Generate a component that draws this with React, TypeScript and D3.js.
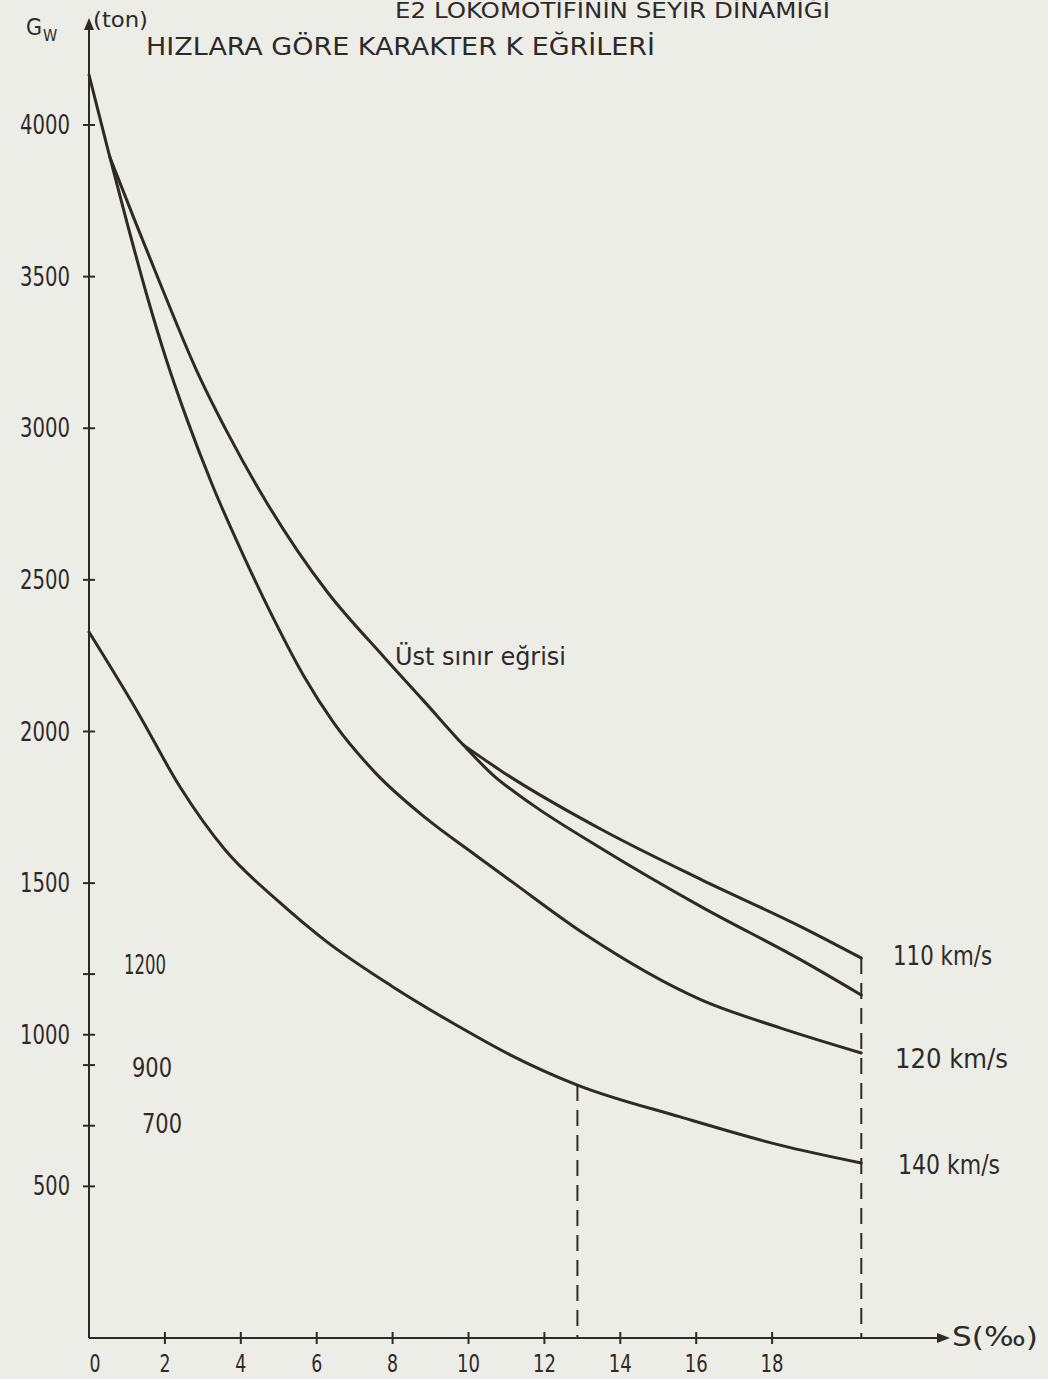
import React from "react";
import * as d3 from "d3";

const W = 1048;
const H = 1379;

// eğim S (‰) - yük Gw (ton)
const grade140 = [0, 1.25, 2.4, 3.59, 5.01, 6.21, 7.97, 9.72, 11.11, 12.87, 15.58, 18.21, 20.35];
const load140 = [2328, 2071, 1817, 1609, 1438, 1312, 1161, 1029, 933, 834, 729, 636, 577];

const grade120 = [0, 0.5, 1.01, 1.53, 2.04, 2.55, 3.25, 4.1, 4.88, 5.66, 6.44, 7.56, 8.87, 10.18, 11.15, 13.06, 16.13, 18.23, 20.35];
const load120 = [4165, 3918, 3674, 3436, 3225, 3040, 2813, 2572, 2368, 2183, 2030, 1862, 1715, 1593, 1504, 1332, 1115, 1022, 940];

// üst sınır eğrisi
const gradeLimit = [0.55, 1.2, 1.87, 2.83, 3.68, 4.72, 5.5, 6.28, 7.77, 8.82, 9.86, 10.64, 11.69, 13.48, 16.15, 18.77, 20.35];
const loadLimit = [3894, 3687, 3479, 3192, 2978, 2747, 2595, 2460, 2246, 2101, 1956, 1857, 1758, 1616, 1421, 1246, 1131];

const grade110 = [9.86, 10.91, 13.53, 16.16, 18.78, 20.35];
const load110 = [1956, 1866, 1675, 1510, 1355, 1253];

const xTicks = [0, 2, 4, 6, 8, 10, 12, 14, 16, 18];
const yTicks = [500, 1000, 1500, 2000, 2500, 3000, 3500, 4000];
const innerTicks = [1200, 900, 700];
const dashedAt = [12.87, 20.35];
const dashedTop = [834, 1253];

const FONT = "'Liberation Sans Narrow', 'DejaVu Sans Condensed', 'DejaVu Sans', sans-serif";
const INK = "#2e2a27";

function Label({ x, y, size = 27, length, anchor = "start", children }: any) {
    return (
        <text
            x={x}
            y={y}
            fontSize={size}
            fontFamily={FONT}
            fill={INK}
            textAnchor={anchor}
            textLength={length}
            lengthAdjust={length ? "spacingAndGlyphs" : undefined}
        >
            {children}
        </text>
    );
}

export default function App() {
    const x = d3.scaleLinear().domain([0, 20]).range([89, 89 + 37.95 * 20]);
    const y = d3.scaleLinear().domain([0, 4000]).range([1338, 125]);

    const line = d3
        .line<[number, number]>()
        .x(d => x(d[0]))
        .y(d => y(d[1]))
        .curve(d3.curveMonotoneX);

    const series = [
        { g: grade140, l: load140 },
        { g: grade120, l: load120 },
        { g: gradeLimit, l: loadLimit },
        { g: grade110, l: load110 }
    ];

    const x0 = x(0);
    const yAxis = y(0);

    return (
        <svg
            width={W}
            height={H}
            style={{ position: "absolute", left: 0, top: 0, display: "block", background: "#edede8" }}
        >
            {/* başlıklar */}
            <Label x={395} y={18} size={21} length={435}>E2 LOKOMOTİFİNİN  SEYİR DİNAMİĞİ</Label>
            <Label x={146} y={55} size={25} length={509}>HIZLARA GÖRE KARAKTER K EĞRİLERİ</Label>

            {/* eksenler */}
            <line x1={x0} y1={yAxis} x2={x0} y2={26} stroke={INK} strokeWidth={2} />
            <path d={`M${x0},18 L${x0 - 5},30 L${x0 + 5},30 Z`} fill={INK} />
            <line x1={x0} y1={yAxis} x2={940} y2={yAxis} stroke={INK} strokeWidth={2} />
            <path d={`M950,${yAxis} L937,${yAxis - 5} L937,${yAxis + 5} Z`} fill={INK} />

            <Label x={26} y={35} size={23}>G</Label>
            <Label x={43} y={41} size={16}>W</Label>
            <Label x={93} y={27} size={22} length={55}>(ton)</Label>
            <Label x={952} y={1346} size={26} length={86}>S(‰)</Label>

            {yTicks.map(t => (
                <g key={t}>
                    <line x1={x0 - 6} x2={x0 + 6} y1={y(t)} y2={y(t)} stroke={INK} strokeWidth={2} />
                    <Label x={70} y={y(t) + 9} anchor="end" length={t < 1000 ? 37 : 50}>{t}</Label>
                </g>
            ))}

            {innerTicks.map((t, i) => (
                <g key={t}>
                    <line x1={x0 - 6} x2={x0 + 6} y1={y(t)} y2={y(t)} stroke={INK} strokeWidth={2} />
                    <Label
                        x={[124, 132, 142][i]}
                        y={y(t) + [0, 12, 7][i]}
                        size={26}
                        length={t < 1000 ? 40 : 42}
                    >
                        {t}
                    </Label>
                </g>
            ))}

            {xTicks.map(t => (
                <g key={t}>
                    {t > 0 && (
                        <line x1={x(t)} x2={x(t)} y1={yAxis - 6} y2={yAxis + 6} stroke={INK} strokeWidth={2} />
                    )}
                    <Label x={x(t) + (t === 0 ? 6 : 0)} y={1372} size={25} anchor="middle" length={t < 10 ? 11 : 23}>
                        {t}
                    </Label>
                </g>
            ))}

            {/* kesikli dikey çizgiler */}
            {dashedAt.map((s, i) => (
                <line
                    key={s}
                    x1={x(s)}
                    x2={x(s)}
                    y1={y(dashedTop[i])}
                    y2={yAxis}
                    stroke={INK}
                    strokeWidth={2}
                    strokeDasharray="16 9"
                />
            ))}

            {/* eğriler */}
            {series.map((s, i) => (
                <path
                    key={i}
                    d={line(s.g.map((g, j) => [g, s.l[j]] as [number, number])) || ""}
                    fill="none"
                    stroke={INK}
                    strokeWidth={3}
                    strokeLinecap="round"
                />
            ))}

            <Label x={395} y={665} size={24} length={171}>Üst sınır eğrisi</Label>
            <Label x={893} y={y(load110[load110.length - 1]) + 7} length={99}>110  km/s</Label>
            <Label x={895} y={y(load120[load120.length - 1]) + 15} length={113}>120  km/s</Label>
            <Label x={898} y={y(load140[load140.length - 1]) + 11} length={102}>140 km/s</Label>
        </svg>
    );
}
